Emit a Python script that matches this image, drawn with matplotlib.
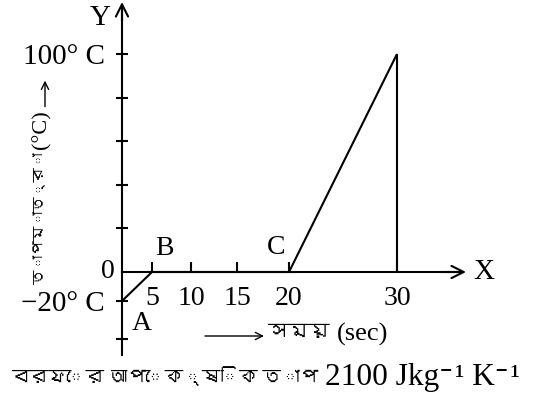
import numpy as np
import matplotlib
matplotlib.use("Agg")
import matplotlib.pyplot as plt
from matplotlib import font_manager as fm

# ---------------- data ----------------
time_s = [0, 5, 20, 30]            # A, B, C, peak
temp_c = [-20, 0, 0, 100]
x_ticks = [5, 10, 15, 20, 30]
x_tick_labels = ["5", "10", "15", "20", "30"]
y_ticks = [-40, -20, 20, 40, 60, 80, 100]
y_tick_labels = ["", "\u221220\u00b0 C", "", "", "", "", "100\u00b0 C"]
point_names = ["A", "B", "C"]
y_label_bn = "তাপমাত্রা"
y_label_unit = "(°C)"
x_label_bn = "সম\u09df"
x_label_unit = "(sec)"
caption_bn = "বরফের আপেক্ষিক তাপ"
caption_val = "2100 Jkg⁻¹ K⁻¹"

# ---------------- find a Bengali-capable font, if any ----------------
beng_family = None
try:
    from fontTools.ttLib import TTFont
    for f in fm.findSystemFonts():
        try:
            tt = TTFont(f, fontNumber=0, lazy=True)
            cm = tt.getBestCmap()
            if cm and 0x09AC in cm:
                fm.fontManager.addfont(f)
                beng_family = fm.FontProperties(fname=f).get_name()
                break
        except Exception:
            pass
except Exception:
    pass

fams = ["Liberation Serif"] + ([beng_family] if beng_family else []) + ["DejaVu Serif", "DejaVu Sans"]
plt.rcParams["font.family"] = fams

# ---------------- schematic (non-uniform) scales ----------------
XD = [-30, 0, 5, 10, 15, 20, 30, 60]
XP = [-180, 0, 30, 69, 115, 167, 275, 440]
YD = [-100, -40, -20, 0, 100, 200]
YP = [-187, -67, -29, 0, 218, 436]

def xf(v): return np.interp(v, XD, XP)
def xi(v): return np.interp(v, XP, XD)
def yf(v): return np.interp(v, YD, YP)
def yi(v): return np.interp(v, YP, YD)

W, H = 543, 412
fig = plt.figure(figsize=(W / 100, H / 100), dpi=100)
ax = fig.add_axes([0, 0, 1, 1])
ax.set_xscale("function", functions=(xf, xi))
ax.set_yscale("function", functions=(yf, yi))
ax.set_xlim(xi(-122), xi(W - 122))
ax.set_ylim(yi(-(H - 272)), yi(272))
ax.patch.set_alpha(0)

LW = 1.5
FS = 20

for s in ["top", "right"]:
    ax.spines[s].set_visible(False)
ax.spines["left"].set_position(("data", 0))
ax.spines["bottom"].set_position(("data", 0))
ax.spines["left"].set_linewidth(LW)
ax.spines["bottom"].set_linewidth(LW)
ax.spines["left"].set_bounds(yi(-83), yi(266))
ax.spines["bottom"].set_bounds(0, xi(340))

# arrow heads
ax.annotate("", xy=(0, yi(270)), xytext=(0, yi(250)),
            arrowprops=dict(arrowstyle="->", lw=LW, color="black", mutation_scale=22,
                            shrinkA=0, shrinkB=0))
ax.annotate("", xy=(xi(344), 0), xytext=(xi(320), 0),
            arrowprops=dict(arrowstyle="->", lw=LW, color="black", mutation_scale=22,
                            shrinkA=0, shrinkB=0))

ax.set_xticks(x_ticks)
ax.set_xticklabels(x_tick_labels)
ax.set_yticks(y_ticks)
ax.set_yticklabels(y_tick_labels)
ax.xaxis.set_minor_locator(matplotlib.ticker.NullLocator())
ax.yaxis.set_minor_locator(matplotlib.ticker.NullLocator())
ax.tick_params(axis="x", direction="in", length=7, width=LW, pad=10, labelsize=FS)
ax.tick_params(axis="y", direction="inout", length=9, width=LW, pad=8, labelsize=FS + 1)

# data line
ax.plot(time_s, temp_c, color="black", lw=LW, solid_capstyle="butt")
ax.vlines(time_s[-1], temp_c[1], temp_c[-1], color="black", lw=LW)

def ptext(x, y, s, **kw):
    return fig.text(x / W, 1 - y / H, s, **kw)

renderer = fig.canvas.get_renderer()

def extent_px(t):
    bb = t.get_window_extent(renderer)
    return bb.x0, H - bb.y1, bb.x1, H - bb.y0   # left, top, right, bottom (pixels from top)

def fit_text(x, y, s, target, maxsize=20, **kw):
    t = ptext(x, y, s, fontsize=20, **kw)
    bb = t.get_window_extent(renderer)
    if bb.width > 0:
        t.set_fontsize(min(maxsize, 20 * target / bb.width))
    return t

def farrow(x0, y0, x1, y1):
    fig.add_artist(matplotlib.patches.FancyArrowPatch(
        (x0 / W, 1 - y0 / H), (x1 / W, 1 - y1 / H), transform=fig.transFigure,
        arrowstyle="->", lw=1.0, color="black", mutation_scale=13, shrinkA=0, shrinkB=0))

ptext(100, 18, "Y", fontsize=FS + 1, ha="center", va="center")
ptext(484, 272, "X", fontsize=FS + 1, ha="center", va="center")
ptext(115, 271, "0", fontsize=FS, ha="right", va="center")
for name, (px, py) in zip(point_names, [(142, 323), (164, 249), (276, 248)]):
    ptext(px, py, name, fontsize=FS, ha="center", va="center")

# y label:  তাপমাত্রা (°C) →   (stacked bottom-to-top)
t_bn = ptext(41, 284, y_label_bn, fontsize=10.5, rotation=90, ha="center", va="bottom")
_, top_bn, _, _ = extent_px(t_bn)
t_unit = ptext(42, top_bn - 3, y_label_unit, fontsize=16, rotation=90, ha="center", va="bottom")
_, top_unit, _, _ = extent_px(t_unit)
farrow(45, top_unit - 4, 45, max(top_unit - 30, 76))

# x label:  ⟶ সময় (sec)
farrow(205, 336, 264, 336)
t_xb = ptext(268, 334, x_label_bn, fontsize=15, ha="left", va="center")
_, _, r_xb, _ = extent_px(t_xb)
ptext(max(r_xb + 6, 322), 334, x_label_unit, fontsize=19, ha="left", va="center")

# caption
fit_text(318, 377, caption_bn, 308, ha="right", va="center")
fit_text(325, 377, caption_val, 195, maxsize=26, ha="left", va="center")

fig.savefig("out.png", dpi=100)
